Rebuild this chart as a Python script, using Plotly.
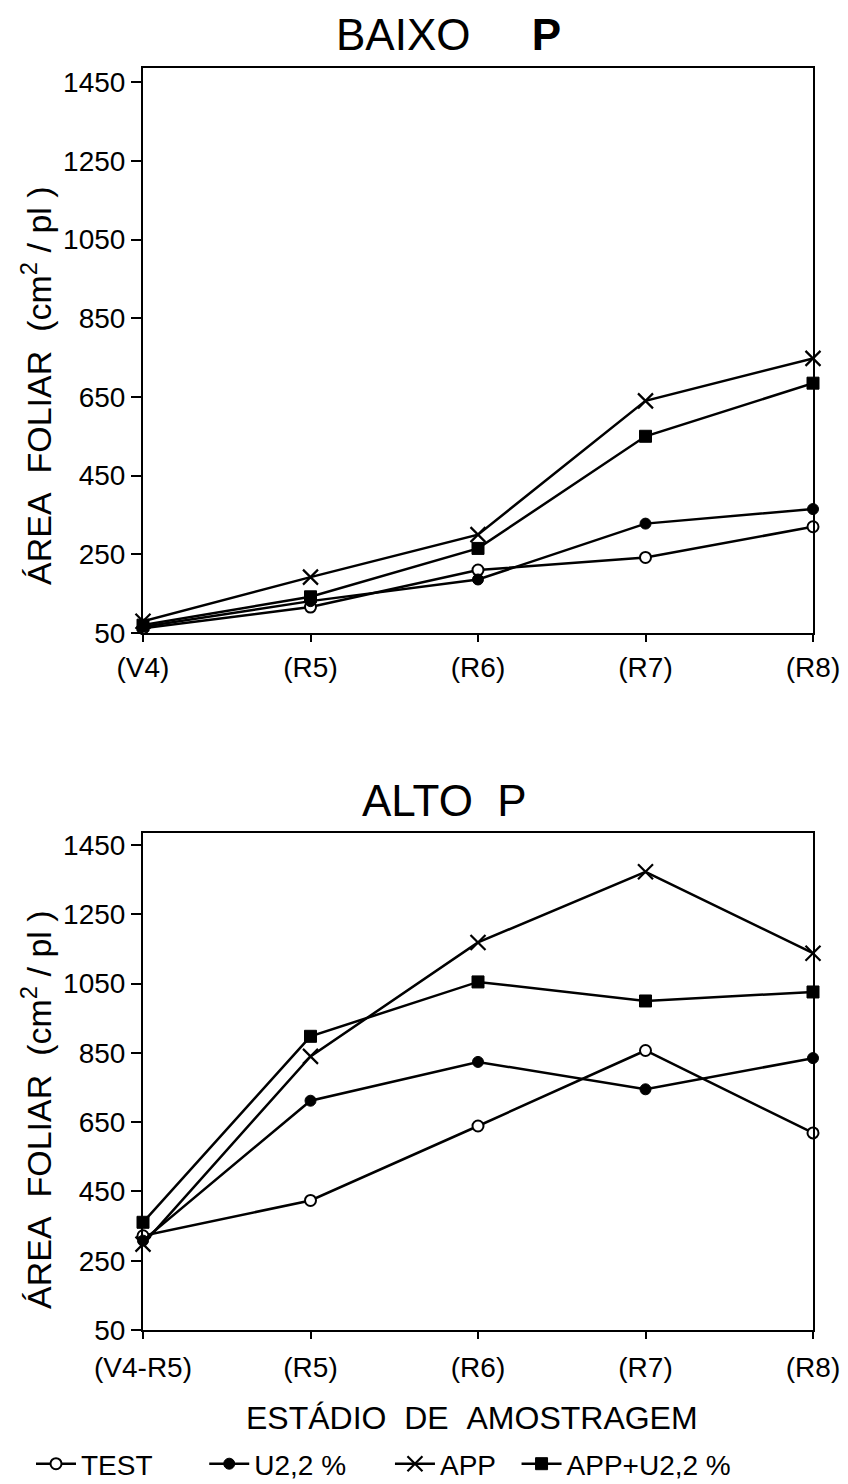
import plotly.graph_objects as go

# ---- data ----
stages_top = ["(V4)", "(R5)", "(R6)", "(R7)", "(R8)"]
stages_bottom = ["(V4-R5)", "(R5)", "(R6)", "(R7)", "(R8)"]
series_names = ["TEST", "U2,2\u00a0%", "APP", "APP+U2,2\u00a0%"]

# Baixo P
baixo_test = [62, 116, 210, 242, 320]
baixo_u22 = [66, 131, 186, 328, 365]
baixo_app = [80, 192, 300, 640, 748]
baixo_appu = [70, 142, 265, 550, 685]

# Alto P
alto_test = [322, 424, 639, 857, 619]
alto_u22 = [308, 712, 824, 745, 835]
alto_app = [298, 840, 1169, 1373, 1138]
alto_appu = [361, 898, 1055, 1000, 1026]

ytick_vals = [50, 250, 450, 650, 850, 1050, 1250, 1450]

# page has an 8px body margin -> figure is 840x1476 placed at (8, 8)
OFF = 8
W, H = 848 - OFF, 1484 - OFF
FONT = "Liberation Sans"
nb = "\u00a0"


def px(X):
    return (X - OFF) / W


def py(Y):
    return 1 - (Y - OFF) / H


markers = [
    dict(symbol="circle", size=11, color="white", line=dict(color="black", width=2)),
    dict(symbol="circle", size=11, color="black", line=dict(color="black", width=1)),
    dict(symbol="x-thin", size=15, color="black", line=dict(color="black", width=2.2)),
    dict(symbol="square", size=12, color="black", line=dict(color="black", width=1)),
]
legend_pad = [6, 5, 2, 0]

fig = go.Figure()

idx = list(range(5))
top_series = [baixo_test, baixo_u22, baixo_app, baixo_appu]
bot_series = [alto_test, alto_u22, alto_app, alto_appu]

for name, vals, mk in zip(series_names, top_series, markers):
    fig.add_trace(go.Scatter(x=idx, y=vals, mode="lines+markers", name=name,
                             line=dict(color="black", width=2.5), marker=mk,
                             xaxis="x", yaxis="y", showlegend=False, cliponaxis=False))
for name, vals, mk, pad in zip(series_names, bot_series, markers, legend_pad):
    fig.add_trace(go.Scatter(x=idx, y=vals, mode="lines+markers", name=name + nb * pad,
                             line=dict(color="black", width=2.5), marker=mk,
                             xaxis="x2", yaxis="y2", showlegend=True, cliponaxis=False))

xdom = [px(143), px(813)]
top_dom = [py(633), py(68)]
bot_dom = [py(1330), py(833)]


def xaxis(labels, anchor, standoff):
    return dict(domain=xdom, range=[0, 4], anchor=anchor, automargin=False,
                tickmode="array", tickvals=idx, ticktext=labels,
                showline=True, linecolor="black", linewidth=2, mirror=True,
                ticks="outside", ticklen=7, tickwidth=1.5, tickcolor="black",
                showgrid=False, zeroline=False, ticklabelstandoff=standoff,
                tickfont=dict(family=FONT, size=28, color="black"))


def yaxis(dom, rng, anchor):
    return dict(domain=dom, range=rng, anchor=anchor, automargin=False,
                tickmode="array", tickvals=ytick_vals,
                ticktext=[str(v) for v in ytick_vals],
                showline=True, linecolor="black", linewidth=2, mirror=True,
                ticks="outside", ticklen=10, tickwidth=1.5, tickcolor="black",
                showgrid=False, zeroline=False,
                tickfont=dict(family=FONT, size=28, color="black"))


fig.update_layout(
    width=W, height=H,
    margin=dict(l=0, r=0, t=0, b=0, pad=0, autoexpand=False),
    paper_bgcolor="white", plot_bgcolor="white",
    xaxis=xaxis(stages_top, "y", 1),
    yaxis=yaxis(top_dom, [50, 1486], "x"),
    xaxis2=xaxis(stages_bottom, "y2", 4),
    yaxis2=yaxis(bot_dom, [50, 1485], "x2"),
    legend=dict(orientation="h", x=px(31), xanchor="left", y=py(1489), yanchor="bottom",
                font=dict(family=FONT, size=28, color="black"),
                bgcolor="rgba(0,0,0,0)", itemwidth=40, tracegroupgap=0),
    showlegend=True,
)

ytitle = "ÁREA" + nb * 2 + "FOLIAR" + nb * 2 + "(cm<sup>2</sup>" + nb + "/" + nb + "pl" + nb + ")"
annotations = [
    dict(text="BAIXO" + nb * 5 + "<b>P</b>", x=px(448), y=py(34), xref="paper", yref="paper",
         showarrow=False, xanchor="center", yanchor="middle",
         font=dict(family=FONT, size=44, color="black")),
    dict(text="ALTO" + nb * 2 + "P", x=px(444), y=py(800), xref="paper", yref="paper",
         showarrow=False, xanchor="center", yanchor="middle",
         font=dict(family=FONT, size=44, color="black")),
    dict(text=ytitle, x=px(36), y=py(386), xref="paper", yref="paper",
         showarrow=False, xanchor="center", yanchor="middle", textangle=-90,
         font=dict(family=FONT, size=34, color="black")),
    dict(text=ytitle, x=px(36), y=py(1110), xref="paper", yref="paper",
         showarrow=False, xanchor="center", yanchor="middle", textangle=-90,
         font=dict(family=FONT, size=34, color="black")),
    dict(text="ESTÁDIO" + nb * 2 + "DE" + nb * 2 + "AMOSTRAGEM", x=px(472), y=py(1418),
         xref="paper", yref="paper", showarrow=False, xanchor="center", yanchor="middle",
         font=dict(family=FONT, size=32, color="black")),
]
fig.update_layout(annotations=annotations)

fig.write_html("out.html")
